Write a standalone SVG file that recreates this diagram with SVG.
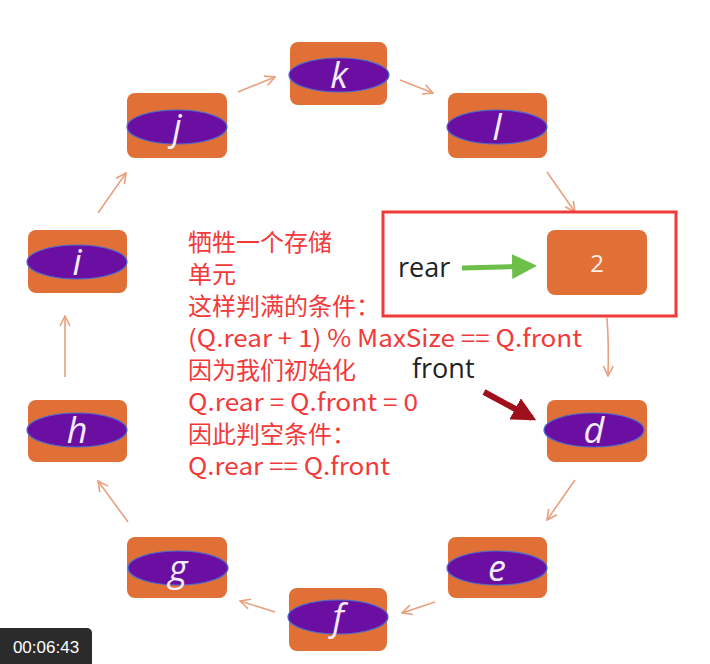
<svg xmlns="http://www.w3.org/2000/svg" width="710" height="664" viewBox="0 0 710 664">
<style>
.box{fill:#E07035;}
.ell{fill:#6A0FA2;stroke:#4A6BD0;stroke-width:1.2;}
.lt{fill:#F4ECFA;font-family:"Open Sans","DejaVu Sans",sans-serif;font-style:italic;font-size:36px;text-anchor:middle;}
.con{fill:none;stroke:#E9A07E;stroke-width:1.6;marker-end:url(#ah);}
.red{fill:#F23A3A;font-family:"Noto Sans CJK SC","Noto Sans",sans-serif;font-size:24px;}
.blk{fill:#222;font-family:"Open Sans","Noto Sans",sans-serif;font-size:27px;}
</style>
<defs>
<marker id="ah" viewBox="0 0 12 12" refX="11" refY="6" markerWidth="12" markerHeight="12" markerUnits="userSpaceOnUse" orient="auto">
<path d="M1,1 L11,6 L1,11" fill="none" stroke="#E9A07E" stroke-width="1.6"/>
</marker>
<marker id="gh" viewBox="0 0 10 10" refX="8" refY="5" markerWidth="5" markerHeight="5" orient="auto">
<path d="M0,0 L10,5 L0,10 Z" fill="#6CC04A"/>
</marker>
<marker id="rh" viewBox="0 0 10 10" refX="8" refY="5" markerWidth="4" markerHeight="4" orient="auto">
<path d="M0,0 L10,5 L0,10 Z" fill="#A0101C"/>
</marker>
</defs>
<rect width="710" height="664" fill="#FFFFFF"/>
<g id="connectors">
<path class="con" d="M98,213 L126,173"/>
<path class="con" d="M238,92 L275,77"/>
<path class="con" d="M400,80 L433,93"/>
<path class="con" d="M547,172 L575,212"/>
<path class="con" d="M607,318 Q609,345 608,376"/>
<path class="con" d="M575,480 L547,520"/>
<path class="con" d="M435,602 L402,613"/>
<path class="con" d="M275,612 L240,601"/>
<path class="con" d="M128,522 L98,481"/>
<path class="con" d="M65,377 L65,316"/>
<path d="M462,268 L532,266" stroke="#6CC04A" stroke-width="5" marker-end="url(#gh)" fill="none"/>
<path d="M484,392 L532,418" stroke="#A0101C" stroke-width="6" marker-end="url(#rh)" fill="none"/>
</g>
<g id="node-k"><rect class="box" x="290" y="42" width="97" height="63" rx="8"/><ellipse class="ell" cx="339" cy="75" rx="50" ry="17"/><text class="lt" x="339" y="88">k</text></g>
<g id="node-l"><rect class="box" x="448" y="93" width="99" height="65" rx="8"/><ellipse class="ell" cx="497" cy="127" rx="50" ry="17"/><text class="lt" x="497" y="140">l</text></g>
<g id="node-j"><rect class="box" x="127" y="93" width="100" height="65" rx="8"/><ellipse class="ell" cx="177" cy="127" rx="50" ry="17"/><text class="lt" x="177" y="140">j</text></g>
<g id="node-i"><rect class="box" x="28" y="230" width="99" height="63" rx="8"/><ellipse class="ell" cx="77" cy="262" rx="50" ry="17"/><text class="lt" x="77" y="275">i</text></g>
<g id="node-2"><rect class="box" x="547" y="230" width="100" height="65" rx="8"/><text x="597" y="272" fill="#F8F0E8" font-family="Open Sans,sans-serif" font-size="24" text-anchor="middle">2</text></g>
<g id="node-h"><rect class="box" x="28" y="400" width="99" height="62" rx="8"/><ellipse class="ell" cx="77" cy="430" rx="50" ry="17"/><text class="lt" x="77" y="443">h</text></g>
<g id="node-d"><rect class="box" x="547" y="400" width="100" height="62" rx="8"/><ellipse class="ell" cx="594" cy="430" rx="50" ry="17"/><text class="lt" x="594" y="443">d</text></g>
<g id="node-g"><rect class="box" x="127" y="537" width="100" height="61" rx="8"/><ellipse class="ell" cx="178" cy="568" rx="50" ry="17"/><text class="lt" x="178" y="581">g</text></g>
<g id="node-e"><rect class="box" x="448" y="537" width="99" height="61" rx="8"/><ellipse class="ell" cx="497" cy="568" rx="50" ry="17"/><text class="lt" x="497" y="581">e</text></g>
<g id="node-f"><rect class="box" x="289" y="588" width="98" height="63" rx="8"/><ellipse class="ell" cx="338" cy="617" rx="50" ry="17"/><text class="lt" x="338" y="630">f</text></g>
<rect x="383" y="212" width="293" height="104" fill="none" stroke="#F03A3A" stroke-width="3"/>
<text class="blk" x="398" y="277">rear</text>
<text class="blk" x="412" y="378">front</text>
<g id="note">
<text class="red" x="188" y="251">牺牲一个存储</text>
<text class="red" x="188" y="283">单元</text>
<text class="red" x="188" y="315">这样判满的条件：</text>
<text class="red" x="188" y="347" textLength="394" lengthAdjust="spacingAndGlyphs">(Q.rear + 1) % MaxSize == Q.front</text>
<text class="red" x="188" y="379">因为我们初始化</text>
<text class="red" x="188" y="411" textLength="230" lengthAdjust="spacingAndGlyphs">Q.rear = Q.front = 0</text>
<text class="red" x="188" y="443">因此判空条件：</text>
<text class="red" x="188" y="475" textLength="202" lengthAdjust="spacingAndGlyphs">Q.rear == Q.front</text>
</g>
<g id="timestamp">
<rect x="-6" y="628" width="98" height="42" rx="5" fill="#2B2B2B"/>
<text x="46" y="653" fill="#FFFFFF" font-family="Liberation Sans,sans-serif" font-size="17" text-anchor="middle">00:06:43</text>
</g>
</svg>
